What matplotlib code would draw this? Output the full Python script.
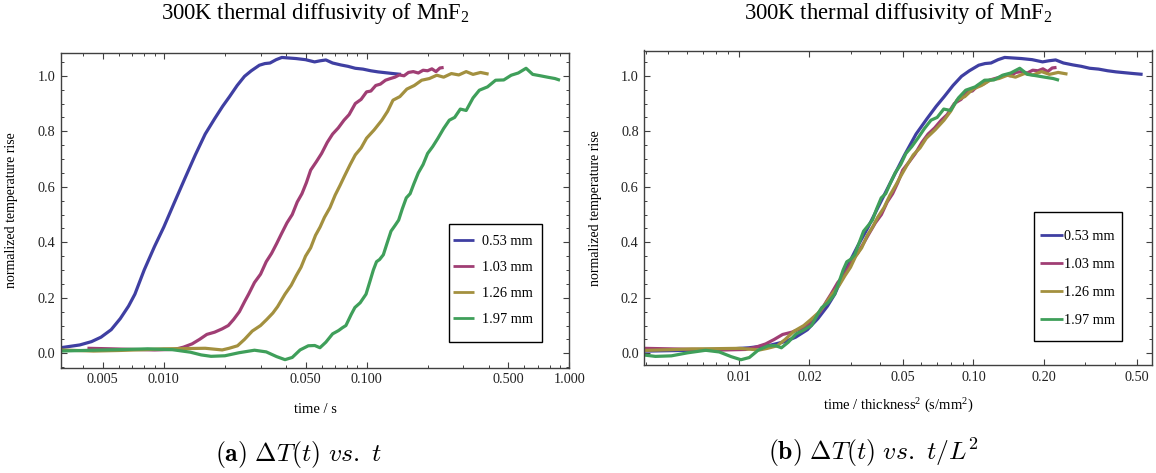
import numpy as np
import matplotlib
matplotlib.use("Agg")
import matplotlib.pyplot as plt
from matplotlib.ticker import FixedLocator, FixedFormatter, NullFormatter
from matplotlib.patches import Rectangle

plt.rcParams['font.family'] = ['Liberation Serif', 'DejaVu Serif']
plt.rcParams['mathtext.fontset'] = 'custom'
plt.rcParams['mathtext.rm'] = 'Liberation Serif'
plt.rcParams['mathtext.it'] = 'Liberation Serif:italic'
plt.rcParams['mathtext.bf'] = 'Liberation Serif:bold'

# ---------------- data ----------------
thickness_mm = [0.53, 1.03, 1.26, 1.97]
labels = ["0.53 mm", "1.03 mm", "1.26 mm", "1.97 mm"]
colors = ["#3f3fa2", "#a03e74", "#a3903f", "#3f9f5a"]

t_053 = [0.00111, 0.0015, 0.002, 0.0025, 0.0031, 0.00385, 0.0044, 0.0049, 0.0055, 0.0061,
         0.0067, 0.0072, 0.0080, 0.0090, 0.0100, 0.0113, 0.0127, 0.0143, 0.0160, 0.0178,
         0.0195, 0.0211, 0.0230, 0.0250, 0.0270, 0.0296, 0.0315, 0.0334, 0.0358, 0.0382,
         0.0415, 0.0450, 0.0500, 0.0554, 0.0590, 0.0630, 0.0680, 0.0747, 0.0810, 0.0880,
         0.0960, 0.105, 0.114, 0.124, 0.135, 0.148]
v_053 = [0.008, 0.010, 0.012, 0.015, 0.020, 0.030, 0.042, 0.058, 0.085, 0.125,
         0.170, 0.213, 0.300, 0.385, 0.455, 0.545, 0.630, 0.715, 0.790, 0.845,
         0.890, 0.925, 0.965, 0.998, 1.018, 1.038, 1.044, 1.046, 1.058, 1.066,
         1.064, 1.062, 1.058, 1.050, 1.054, 1.057, 1.046, 1.039, 1.034, 1.027,
         1.024, 1.018, 1.014, 1.011, 1.008, 1.005]

t_103 = [0.0042, 0.0055, 0.0070, 0.0090, 0.0113, 0.0125, 0.0138, 0.0150, 0.0163, 0.0178,
         0.0194, 0.0208, 0.0221, 0.0236, 0.0251, 0.0262, 0.0280, 0.0300, 0.0320, 0.0340,
         0.0360, 0.0380, 0.0405, 0.0430, 0.0455, 0.0480, 0.0505, 0.0530, 0.0565, 0.0600,
         0.0640, 0.0680, 0.0725, 0.0774, 0.0820, 0.0880, 0.0940, 0.1000, 0.1050, 0.1110,
         0.1170, 0.1240, 0.1310, 0.1380, 0.1450, 0.1530, 0.1610, 0.1700, 0.1800, 0.1900,
         0.2000, 0.2100, 0.2200, 0.2300, 0.2400]
v_103 = [0.018, 0.016, 0.014, 0.012, 0.014, 0.022, 0.034, 0.050, 0.068, 0.076,
         0.088, 0.100, 0.122, 0.150, 0.188, 0.213, 0.255, 0.285, 0.330, 0.360,
         0.395, 0.430, 0.470, 0.500, 0.545, 0.575, 0.615, 0.660, 0.690, 0.720,
         0.760, 0.790, 0.812, 0.840, 0.860, 0.900, 0.915, 0.942, 0.945, 0.965,
         0.970, 0.984, 0.990, 0.995, 1.003, 1.000, 1.012, 1.015, 1.010, 1.020,
         1.018, 1.025, 1.015, 1.028, 1.030]

t_126 = [0.0031, 0.0045, 0.006, 0.008, 0.010, 0.013, 0.016, 0.0194, 0.021, 0.0231,
         0.025, 0.0273, 0.030, 0.0322, 0.0345, 0.0364, 0.0396, 0.0425, 0.045, 0.0475,
         0.050, 0.053, 0.056, 0.059, 0.062, 0.066, 0.070, 0.074, 0.078, 0.083,
         0.088, 0.094, 0.100, 0.109, 0.119, 0.127, 0.135, 0.146, 0.158, 0.172,
         0.187, 0.204, 0.222, 0.240, 0.262, 0.285, 0.310, 0.335, 0.365, 0.400]
v_126 = [0.012, 0.008, 0.010, 0.013, 0.016, 0.017, 0.018, 0.012, 0.018, 0.027,
         0.050, 0.080, 0.100, 0.122, 0.145, 0.168, 0.213, 0.245, 0.280, 0.310,
         0.350, 0.380, 0.425, 0.455, 0.490, 0.525, 0.570, 0.605, 0.640, 0.680,
         0.715, 0.740, 0.775, 0.805, 0.840, 0.872, 0.912, 0.925, 0.952, 0.965,
         0.984, 0.990, 1.002, 0.995, 1.008, 1.003, 1.015, 1.005, 1.012, 1.006]

t_197 = [0.0031, 0.0045, 0.006, 0.0083, 0.011, 0.0135, 0.0153, 0.0171, 0.020, 0.0235,
         0.028, 0.032, 0.0360, 0.0396, 0.0430, 0.0470, 0.0516, 0.0555, 0.0589, 0.0630,
         0.0680, 0.0728, 0.0760, 0.0791, 0.0840, 0.0876, 0.0930, 0.0994, 0.1040, 0.1080,
         0.1120, 0.1160, 0.1210, 0.1260, 0.1320, 0.1380, 0.1440, 0.150, 0.157, 0.164,
         0.171, 0.180, 0.190, 0.200, 0.212, 0.225, 0.240, 0.256, 0.272, 0.290,
         0.310, 0.335, 0.360, 0.395, 0.433, 0.475, 0.517, 0.560, 0.612, 0.660,
         0.720, 0.780, 0.850, 0.900]
v_197 = [0.008, 0.011, 0.013, 0.016, 0.013, 0.004, -0.006, -0.011, -0.009, 0.002,
         0.011, 0.005, -0.012, -0.023, -0.015, 0.012, 0.027, 0.028, 0.020, 0.040,
         0.070, 0.082, 0.092, 0.100, 0.140, 0.165, 0.182, 0.213, 0.260, 0.300,
         0.330, 0.338, 0.355, 0.395, 0.440, 0.460, 0.480, 0.520, 0.560, 0.575,
         0.610, 0.650, 0.680, 0.720, 0.745, 0.775, 0.810, 0.840, 0.850, 0.880,
         0.875, 0.920, 0.948, 0.960, 0.984, 0.985, 1.002, 1.010, 1.027, 1.005,
         1.000, 0.995, 0.990, 0.984]

times = [t_053, t_103, t_126, t_197]
values = [v_053, v_103, v_126, v_197]

left_major = [0.005, 0.01, 0.05, 0.1, 0.5, 1.0]
left_major_labels = ["0.005", "0.010", "0.050", "0.100", "0.500", "1.000"]
right_major = [0.01, 0.02, 0.05, 0.1, 0.2, 0.5]
right_major_labels = ["0.01", "0.02", "0.05", "0.10", "0.20", "0.50"]
y_major = [0.0, 0.2, 0.4, 0.6, 0.8, 1.0]
y_major_labels = ["0.0", "0.2", "0.4", "0.6", "0.8", "1.0"]

title = r"300K thermal diffusivity of MnF$_2$"
ylabel = "normalized temperature rise"

# ---------------- figure ----------------
W, H = 1156, 473
fig = plt.figure(figsize=(W / 100, H / 100), dpi=100)

def px_axes(x0, y0, x1, y1):
    return fig.add_axes([x0 / W, 1 - y1 / H, (x1 - x0) / W, (y1 - y0) / H])

axL = px_axes(60.7, 53.3, 569.3, 367.7)
axR = px_axes(644.3, 50.5, 1151.7, 365.0)

frame_col = "#404040"
tick_col = "#222222"

def log_minors(lo, hi, majors):
    m = []
    for d in range(-4, 1):
        for k in range(1, 10):
            v = k * 10.0 ** d
            if lo <= v <= hi and not any(abs(v - M) / M < 1e-6 for M in majors):
                m.append(v)
    return m

def style(ax, xmaj, xlab, xlim, ylim):
    ax.set_xscale("log")
    ax.set_xlim(*xlim)
    ax.set_ylim(*ylim)
    ax.xaxis.set_major_locator(FixedLocator(xmaj))
    ax.xaxis.set_major_formatter(FixedFormatter(xlab))
    ax.xaxis.set_minor_locator(FixedLocator(log_minors(xlim[0], xlim[1], xmaj)))
    ax.xaxis.set_minor_formatter(NullFormatter())
    ax.yaxis.set_major_locator(FixedLocator(y_major))
    ax.yaxis.set_major_formatter(FixedFormatter(y_major_labels))
    ax.yaxis.set_minor_locator(FixedLocator([0.05 * k for k in range(-1, 22) if k % 4 != 0]))
    ax.tick_params(which="both", direction="in", top=True, right=True,
                   color=frame_col, labelcolor=tick_col, labelsize=10.3)
    ax.tick_params(which="major", length=4.5, width=0.8, pad=4)
    ax.tick_params(which="minor", length=2.3, width=0.7)
    for s in ax.spines.values():
        s.set_color(frame_col)
        s.set_linewidth(1.0)

for ax, rightplot in ((axL, False), (axR, True)):
    for t, v, L, c, lab in zip(times, values, thickness_mm, colors, labels):
        x = np.asarray(t) / (L ** 2) if rightplot else np.asarray(t)
        ax.plot(x, v, color=c, lw=2.3, label=lab, solid_capstyle="butt",
                solid_joinstyle="round")

style(axL, left_major, left_major_labels, (0.0031, 1.0), (-0.052, 1.081))
style(axR, right_major, right_major_labels, (0.00395, 0.576), (-0.042, 1.091))

# legends (frame drawn separately)
def legend(ax, xh, yc, hl, htp, ls, box):
    leg = ax.legend(loc="center left", bbox_to_anchor=(xh, yc), frameon=False,
                    borderpad=0, borderaxespad=0, handlelength=hl,
                    handletextpad=htp, labelspacing=ls, fontsize=10.3)
    for ln in leg.get_lines():
        ln.set_linewidth(2.0)
    x0, y0, x1, y1 = box
    ax.add_patch(Rectangle((x0, y0), x1 - x0, y1 - y0, transform=ax.transAxes,
                           fill=False, edgecolor="black", lw=1.0, clip_on=False, zorder=5))

legend(axL, 0.7713, 0.277, 1.45, 0.55, 0.92, (0.764, 0.0827, 0.947, 0.456))
legend(axR, 0.780, 0.2754, 1.6, 0.05, 1.06, (0.768, 0.0773, 0.941, 0.4855))

# titles, labels, captions
fig.text(315 / W, 1 - 14 / H, title, ha="center", va="center", fontsize=16.3)
fig.text(898 / W, 1 - 14 / H, title, ha="center", va="center", fontsize=16.3)
fig.text(12 / W, 1 - 210.5 / H, ylabel, rotation=90, ha="center", va="center", fontsize=10)
fig.text(596 / W, 1 - 207.7 / H, ylabel, rotation=90, ha="center", va="center", fontsize=10)
fig.text(315 / W, 1 - 409 / H, "time / s", ha="center", va="center", fontsize=10.5)
fig.text(898 / W, 1 - 406 / H, r"time / thickness$^2$ (s/mm$^2$)", ha="center",
         va="center", fontsize=10.5)
fig.text(299 / W, 1 - 454 / H, r"$\mathbf{(a)}\ \Delta T(t)\ \mathit{vs.}\ t$",
         ha="center", va="center", fontsize=18.5, math_fontfamily="cm")
fig.text(874 / W, 1 - 452 / H, r"$\mathbf{(b)}\ \Delta T(t)\ \mathit{vs.}\ t/L^2$",
         ha="center", va="center", fontsize=18.5, math_fontfamily="cm")

fig.savefig("out.png", dpi=100)
